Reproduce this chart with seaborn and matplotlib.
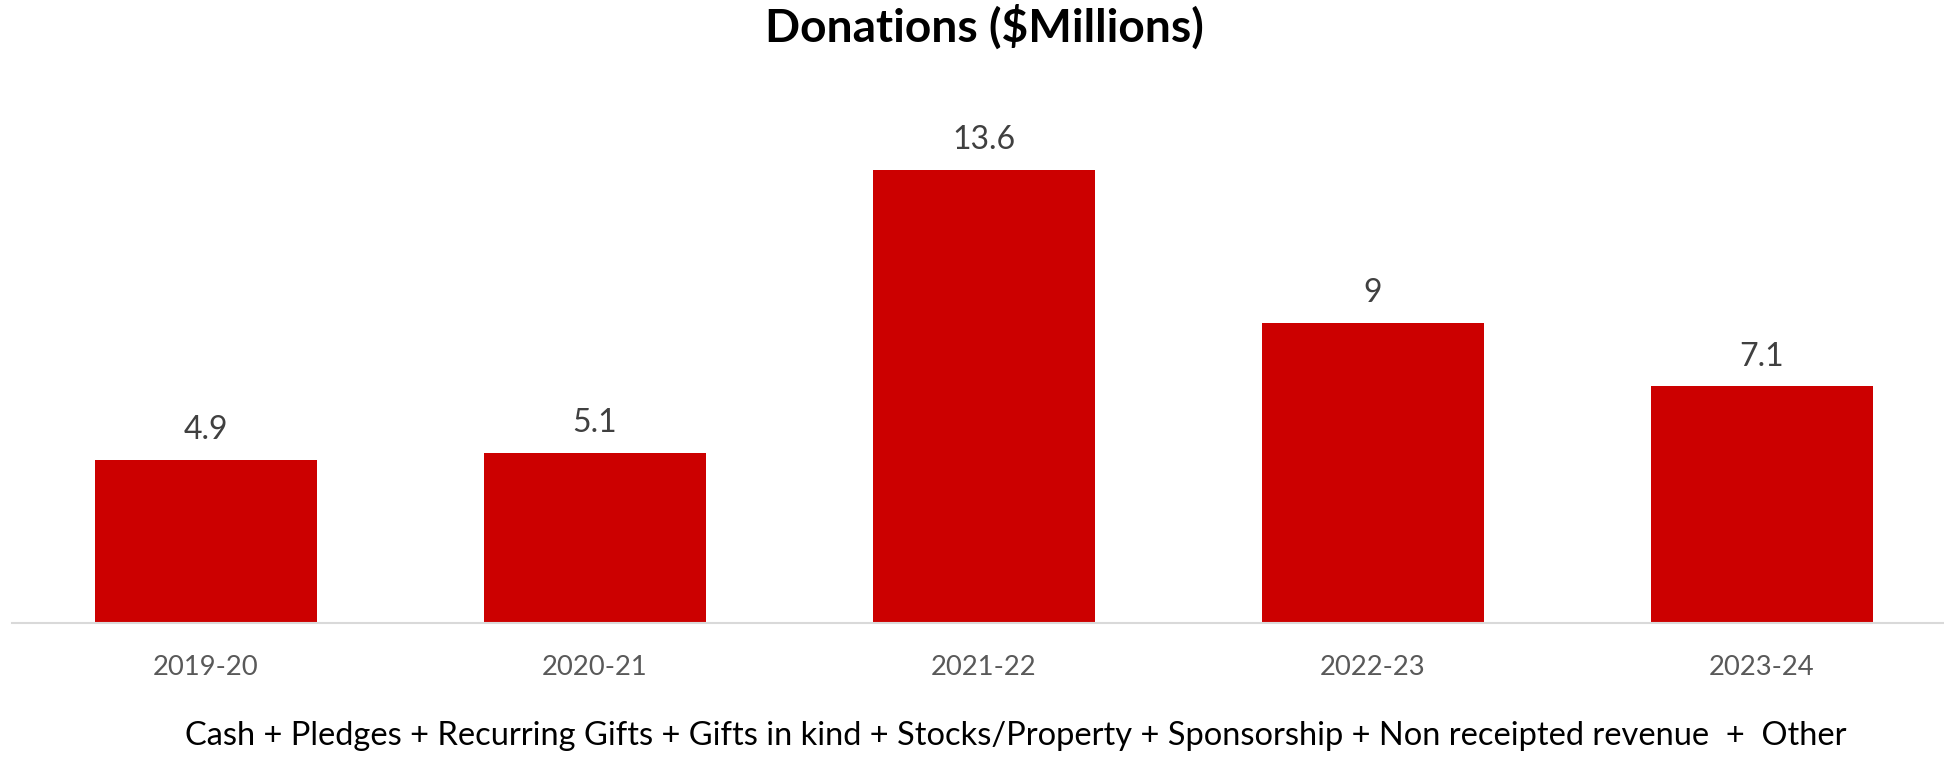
import matplotlib
matplotlib.use("Agg")
import matplotlib.pyplot as plt
import seaborn as sns
import pandas as pd

years = ["2019-20", "2020-21", "2021-22", "2022-23", "2023-24"]
donations = [4.9, 5.1, 13.6, 9, 7.1]
value_labels = ["4.9", "5.1", "13.6", "9", "7.1"]
title_text = "Donations ($Millions)"
footnote_text = ("Cash + Pledges + Recurring Gifts + Gifts in kind + Stocks/Property + "
                 "Sponsorship + Non receipted revenue  +  Other")

sns.set_style("white")
plt.rcParams["font.family"] = ["Lato", "DejaVu Sans"]

W, H = 1944, 757
fig = plt.figure(figsize=(W / 100, H / 100), dpi=100)
ax = fig.add_axes([11.5 / W, (H - 623) / H, (W - 11.5) / W, 533 / H])

df = pd.DataFrame({"year": years, "value": donations})
sns.barplot(data=df, x="year", y="value", color="#CC0000", saturation=1,
            width=0.571, ax=ax, linewidth=0)

ax.set_xlim(-0.5, 4.5 - 12.5 / 389)
ax.set_ylim(0, 16)
ax.set_xlabel("")
ax.set_ylabel("")
ax.set_yticks([])
for s in ["top", "left", "right"]:
    ax.spines[s].set_visible(False)
ax.spines["bottom"].set_color("#D9D9D9")
ax.spines["bottom"].set_linewidth(1.5)
ax.tick_params(axis="x", length=0, pad=23, labelsize=19.7, labelcolor="#595959")

for i, (v, lab) in enumerate(zip(donations, value_labels)):
    ax.annotate(lab, xy=(i, v), xytext=(0, 15), textcoords="offset points",
                ha="center", va="baseline", fontsize=23, color="#404040")

title = fig.text(984 / W, 1 - 42 / H, title_text, ha="center", va="baseline",
                 fontsize=30, fontweight="bold", color="black")
foot = fig.text(1016 / W, 1 - 745 / H, footnote_text, ha="center", va="baseline",
                fontsize=26, color="black",
                family=["Liberation Sans Narrow", "Lato", "DejaVu Sans"])

fig.canvas.draw()
r = fig.canvas.get_renderer()
for t, target in [(title, 438), (foot, 1661)]:
    w = t.get_window_extent(r).width
    t.set_fontsize(t.get_fontsize() * target / w)

fig.savefig("out.png", dpi=100)
